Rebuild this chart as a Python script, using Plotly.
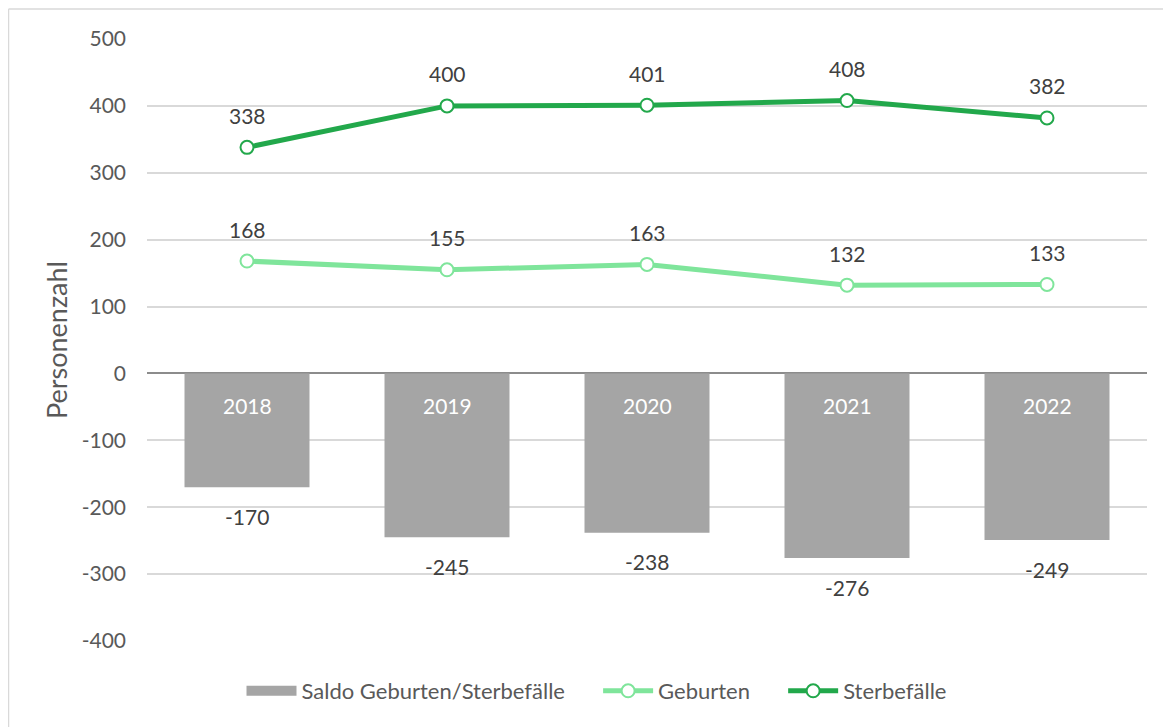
import plotly.graph_objects as go

years = ["2018", "2019", "2020", "2021", "2022"]
saldo = [-170, -245, -238, -276, -249]
geburten = [168, 155, 163, 132, 133]
sterbefaelle = [338, 400, 401, 408, 382]
y_ticks = [-400, -300, -200, -100, 0, 100, 200, 300, 400, 500]
y_tick_labels = ["-400", "-300", "-200", "-100", "0", "100", "200", "300", "400", "500"]
series_names = ["Saldo Geburten/Sterbefälle", "Geburten", "Sterbefälle"]

FONT = "Lato"
TXT = "#595959"
LBL = "#404040"
BAR = "#a5a5a5"
LIGHT = "#7fe59b"
DARK = "#22a84b"
NUM = 21
TXTSIZE = 22
PAD = "\u00a0" * 5

idx = list(range(len(years)))

fig = go.Figure()
fig.add_trace(go.Bar(x=idx, y=saldo, marker=dict(color=BAR, line=dict(width=0)),
                     name=series_names[0], showlegend=False))
# legend-only entry for the bar series (wide rectangle swatch)
fig.add_trace(go.Scatter(x=[None], y=[None], mode="lines", name=series_names[0] + PAD,
                         line=dict(color=BAR, width=12)))
fig.add_trace(go.Scatter(x=idx, y=geburten, mode="lines+markers", name=series_names[1] + PAD,
                         line=dict(color=LIGHT, width=5),
                         marker=dict(size=13, color="white", line=dict(color=LIGHT, width=2))))
fig.add_trace(go.Scatter(x=idx, y=sterbefaelle, mode="lines+markers", name=series_names[2],
                         line=dict(color=DARK, width=5),
                         marker=dict(size=13, color="white", line=dict(color=DARK, width=2))))

ann = []
for i, v in zip(idx, geburten):
    ann.append(dict(x=i, y=v, text=str(v), showarrow=False, yshift=32,
                    font=dict(family=FONT, size=NUM, color=LBL)))
for i, v in zip(idx, sterbefaelle):
    ann.append(dict(x=i, y=v, text=str(v), showarrow=False, yshift=32,
                    font=dict(family=FONT, size=NUM, color=LBL)))
for i, v in zip(idx, saldo):
    ann.append(dict(x=i, y=v, text=str(v), showarrow=False, yshift=-29,
                    font=dict(family=FONT, size=NUM, color=LBL)))
    ann.append(dict(x=i, y=0, text=years[i], showarrow=False, yshift=-32,
                    font=dict(family=FONT, size=NUM, color="white")))

shapes = [
    dict(type="line", xref="paper", yref="paper", x0=-0.1385, x1=1.1, y0=1.0498, y1=1.0498,
         line=dict(color="#d9d9d9", width=1.5)),
    dict(type="line", xref="paper", yref="paper", x0=-0.1385, x1=-0.1385, y0=1.0498, y1=-0.2,
         line=dict(color="#d9d9d9", width=1.5)),
]

# page body has an 8px margin: compensate so the plot area sits at x 147-1147, y 39-641
fig.update_layout(
    width=1171, height=727,
    margin=dict(l=139, r=32, t=31, b=94, autoexpand=False),
    paper_bgcolor="white", plot_bgcolor="white",
    font=dict(family=FONT, size=TXTSIZE, color=TXT),
    bargap=0.375,
    showlegend=True,
    legend=dict(orientation="h", x=0.4495, xanchor="center", y=-0.083, yanchor="middle",
                font=dict(family=FONT, size=TXTSIZE, color=TXT), bgcolor="rgba(0,0,0,0)",
                traceorder="normal", itemwidth=50),
    annotations=ann,
    shapes=shapes,
)
fig.update_xaxes(range=[-0.5, 4.5], showticklabels=False, showgrid=False, zeroline=False,
                 showline=False, ticks="")
fig.update_yaxes(range=[-400, 500], tickvals=y_ticks, ticktext=y_tick_labels,
                 showgrid=True, gridcolor="#d9d9d9", gridwidth=1.5,
                 zeroline=True, zerolinecolor="#8c8c8c", zerolinewidth=1.5,
                 showline=False, ticks="", ticklabelstandoff=20, automargin=False,
                 tickfont=dict(family=FONT, size=NUM, color=TXT),
                 title=dict(text="Personenzahl", standoff=6,
                            font=dict(family=FONT, size=27, color=TXT)))

fig.write_html("out.html")
